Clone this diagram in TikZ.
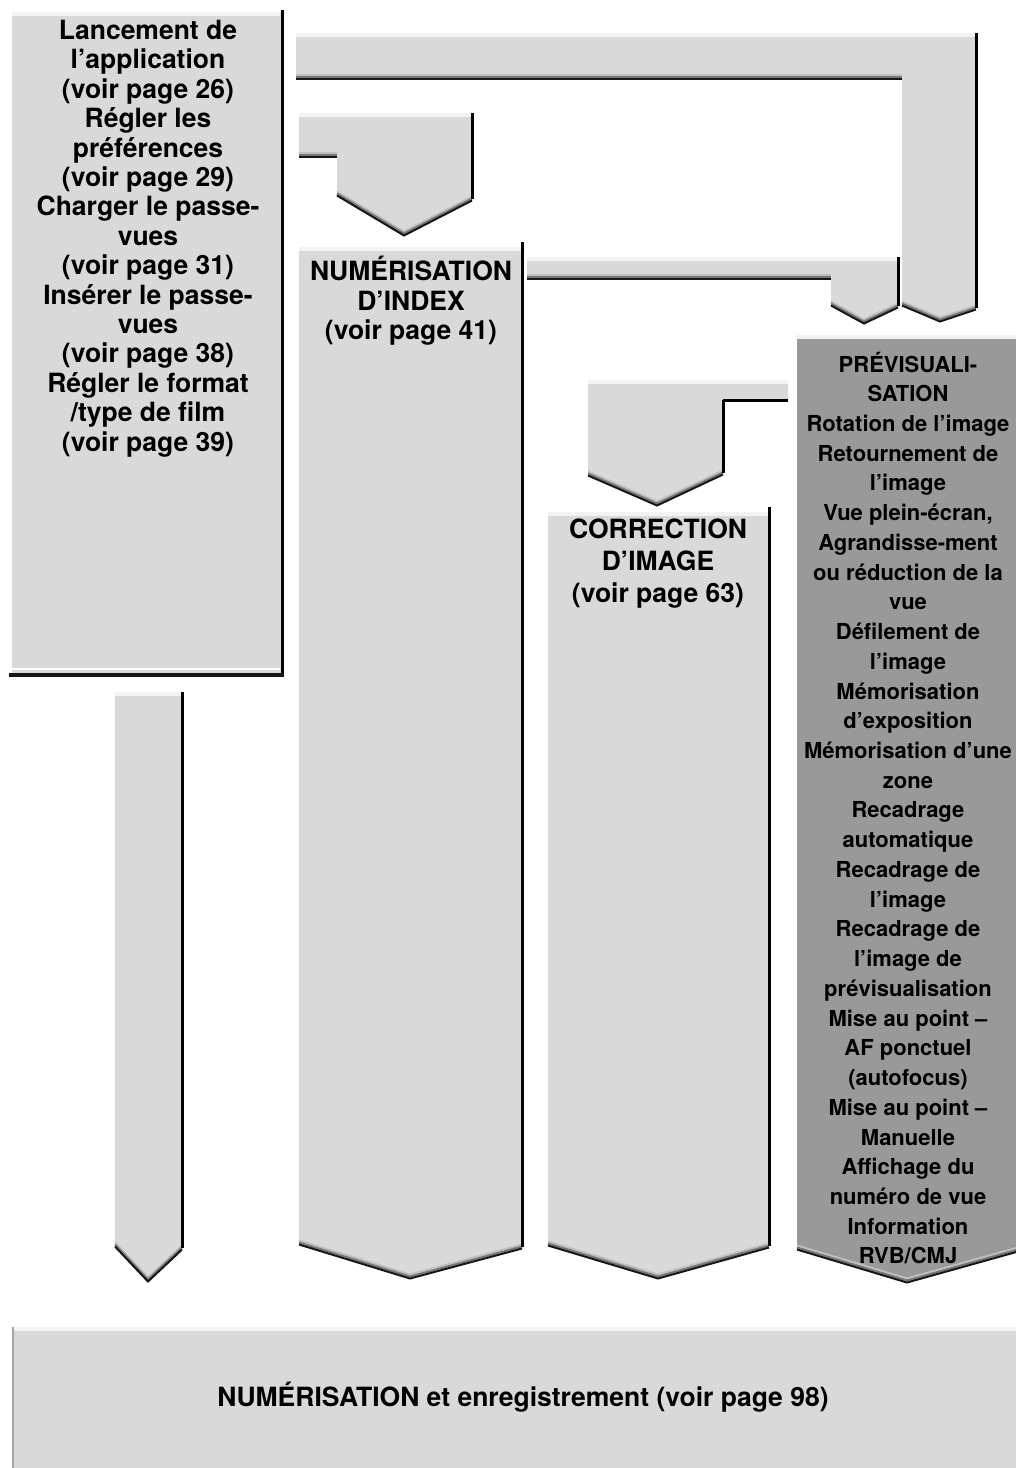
\documentclass[tikz,border=0pt]{standalone}
\usepackage{fontspec}
\setmainfont{TeX Gyre Heros}
\usetikzlibrary{calc}
\definecolor{panelgray}{RGB}{217,217,217}
\definecolor{viewgray}{RGB}{153,153,153}
\definecolor{edgelite}{RGB}{192,192,192}
\definecolor{edgemid}{RGB}{120,120,120}
\definecolor{edgedark}{RGB}{22,22,22}
\definecolor{toplite}{RGB}{243,243,243}
% bevel under a chevron tip: left corner, tip, right corner
\newcommand\chevrim[6]{%
  \draw[rimlite] (#1,#2-1.5) -- (#3,#4-1.5) -- (#5,#6-1.5);
  \draw[rimmid] (#1,#2+0.5) -- (#3,#4+0.5) -- (#5,#6+0.5);
  \draw[rimdark] (#1,#2+2.5) -- (#3,#4+2.5) -- (#5,#6+2.5);}
% bevel under a horizontal bar
\newcommand\barrim[3]{%
  \draw[rimlite] (#1,#3-1.5) -- (#2,#3-1.5);
  \draw[rimmid] (#1,#3+0.5) -- (#2,#3+0.5);
  \draw[rimdark] (#1,#3+2.5) -- (#2,#3+2.5);}
\begin{document}
\begin{tikzpicture}[x=1pt,y=-1pt,
  panel/.style={fill=panelgray},
  rimlite/.style={draw=edgelite,line width=2pt},
  rimmid/.style={draw=edgemid,line width=2pt},
  rimdark/.style={draw=edgedark,line width=2pt},
  side/.style={draw=black,line width=3pt},
  crest/.style={draw=toplite,line width=4pt},
  label/.style={font=\fontsize{26.5}{29.4}\selectfont\bfseries,align=center,inner sep=0pt},
  smalllabel/.style={font=\fontsize{22}{29.73}\selectfont\bfseries,align=center,inner sep=0pt}]
\useasboundingbox (0,0) rectangle (1016,1468);

% start box
\fill[panel] (12,12) rectangle (282,674);
\draw[crest] (12,14) -- (280,14);
\draw[draw=white,line width=1.5pt] (12,669) -- (280,669);
\draw[side] (282,10) -- (282,676);
\draw[draw=edgedark,line width=3.5pt] (9,675) -- (283.5,675);

% arrow down from start box
\fill[panel] (115,692) -- (182,692) -- (182,1247) -- (148,1279) -- (115,1244) -- cycle;
\draw[crest] (115,694) -- (181,694);
\chevrim{115}{1244}{148}{1279}{182}{1247}
\draw[side] (182,692) -- (182,1248);

% long bracket to preview
\fill[panel] (296,33) -- (976,33) -- (976,307) -- (940,319) -- (902,303) -- (902,77) -- (296,77) -- cycle;
\draw[crest] (296,35) -- (975,35);
\barrim{296}{902}{76}
\chevrim{902}{303}{940}{319}{976}{307}
\draw[side] (976,33) -- (976,308);

% short bracket to index scan
\fill[panel] (299,113) -- (472,113) -- (472,198) -- (404,233) -- (337,193) -- (337,155) -- (299,155) -- cycle;
\draw[crest] (299,115) -- (471,115);
\barrim{299}{337}{154}
\chevrim{337}{193}{404}{233}{472}{198}
\draw[side] (472,113) -- (472,199);

% index scan column
\fill[panel] (299,247) -- (522,247) -- (522,1246) -- (410,1276) -- (299,1242) -- cycle;
\draw[crest] (299,249) -- (521,249);
\chevrim{299}{1242}{410}{1276}{522}{1246}
\draw[side] (522,242) -- (522,1247);

% link from index scan to preview
\fill[panel] (527,257) -- (898,257) -- (898,305) -- (864,321) -- (831,303) -- (831,277) -- (527,277) -- cycle;
\draw[crest] (527,259) -- (897,259);
\barrim{527}{831}{276}
\chevrim{831}{303}{864}{321}{898}{305}
\draw[side] (898,257) -- (898,306);

% link from preview to correction
\fill[panel] (588,380) -- (788,380) -- (788,400) -- (723,400) -- (723,472) -- (657,503) -- (588,473) -- cycle;
\draw[crest] (588,382) -- (788,382);
\draw[side] (723,400) -- (788,400);
\chevrim{588}{473}{657}{503}{723}{472}
\draw[side] (723,400) -- (723,473);

% correction column
\fill[panel] (548,512) -- (769,512) -- (769,1245) -- (658,1276) -- (548,1243) -- cycle;
\draw[crest] (548,514) -- (768,514);
\chevrim{548}{1243}{658}{1276}{769}{1245}
\draw[side] (769,507) -- (769,1246);

% preview column
\fill[viewgray] (797,338) -- (1018,338) -- (1018,1249) -- (907,1280) -- (797,1247) -- cycle;
\draw[crest] (797,337) -- (1016,337);
\chevrim{797}{1247}{907}{1280}{1018}{1249}

% scan and save bar
\fill[panel] (12,1327) rectangle (1016,1468);
\draw[crest] (12,1329) -- (1016,1329);
\draw[draw=gray!70,line width=1.5pt] (12.75,1327) -- (12.75,1468);

% labels
\node[label] (start) at (148,238.5) {Lancement de\\l’application\\(voir page 26)\\Régler les\\préférences\\(voir page 29)\\Charger le passe-\\vues\\(voir page 31)\\Insérer le passe-\\vues\\(voir page 38)\\Régler le format\\/type de film\\(voir page 39)};
\node[label] (index) at (411,301) {NUMÉRISATION\\D’INDEX\\(voir page 41)};
\node[label,font=\fontsize{26.5}{32}\selectfont\bfseries] (correction) at (658,564) {CORRECTION\\D’IMAGE\\(voir page 63)};
\node[smalllabel] (preview) at (908,808) {PRÉVISUALI-\\SATION\\Rotation de l’image\\Retournement de\\l’image\\Vue plein-écran,\\Agrandisse-ment\\ou réduction de la\\vue\\Défilement de\\l’image\\Mémorisation\\d’exposition\\Mémorisation d’une\\zone\\Recadrage\\automatique\\Recadrage de\\l’image\\Recadrage de\\l’image de\\prévisualisation\\Mise au point –\\AF ponctuel\\(autofocus)\\Mise au point –\\Manuelle\\Affichage du\\numéro de vue\\Information\\RVB/CMJ};
\node[label] (scan) at (523,1397) {NUMÉRISATION et enregistrement (voir page 98)};
\end{tikzpicture}
\end{document}
